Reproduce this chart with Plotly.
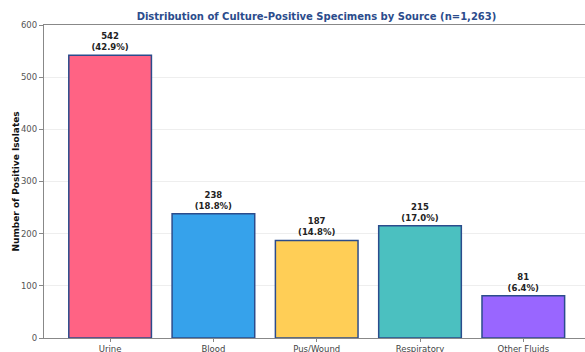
import plotly.graph_objects as go

categories = ["Urine", "Blood", "Pus/Wound", "Respiratory", "Other Fluids"]
counts = [542, 238, 187, 215, 81]
colors = ["#FF6384", "#36A2EB", "#FFCE56", "#4BC0C0", "#9966FF"]
total = 1263
y_ticks = [0, 100, 200, 300, 400, 500, 600]

labels = [f"<b>{c}</b><br><b>({c / total * 100:.1f}%)</b>" for c in counts]

fig = go.Figure()
fig.add_trace(go.Bar(
    x=list(range(len(categories))),
    y=counts,
    width=0.8,
    marker=dict(color=colors, line=dict(color="#2B4C8C", width=1.5)),
    text=labels,
    textposition="outside",
    textfont=dict(family="DejaVu Sans", size=8.5, color="#222222"),
    cliponaxis=False,
))

fig.update_layout(
    width=585, height=352,
    margin=dict(l=44, r=0, t=25, b=14),
    plot_bgcolor="white",
    paper_bgcolor="white",
    font=dict(family="DejaVu Sans", size=9, color="#444444"),
    showlegend=False,
    title=dict(
        text="<b>Distribution of Culture-Positive Specimens by Source (n=1,263)</b>",
        x=(316.5) / 585, xanchor="center",
        y=1 - 16 / 352, yanchor="middle",
        font=dict(family="DejaVu Sans", size=10, color="#2B4C8C"),
    ),
    annotations=[dict(
        text="<b>Number of Positive Isolates</b>",
        xref="paper", yref="paper",
        x=-29 / 541, y=0.5, xanchor="center", yanchor="middle",
        textangle=-90, showarrow=False,
        font=dict(family="DejaVu Sans", size=9, color="#111111"),
    )],
)

fig.update_xaxes(
    range=[-0.64, -0.64 + 541 / 103.3],
    tickvals=list(range(len(categories))),
    ticktext=categories,
    showline=True, linecolor="#888888", linewidth=1.2, mirror=True,
    ticks="outside", ticklen=3, tickcolor="#888888",
    showgrid=False, zeroline=False, automargin=False,
    tickfont=dict(size=8.5, color="#444444"),
)
fig.update_yaxes(
    range=[0, 600],
    tickvals=y_ticks,
    showline=True, linecolor="#888888", linewidth=1.2, mirror=True,
    ticks="outside", ticklen=4, tickcolor="#888888",
    showgrid=True, gridcolor="#EEEEEE", gridwidth=1,
    zeroline=False, automargin=False,
    tickfont=dict(size=8.5, color="#555555"),
)

fig.write_html("out.html")
